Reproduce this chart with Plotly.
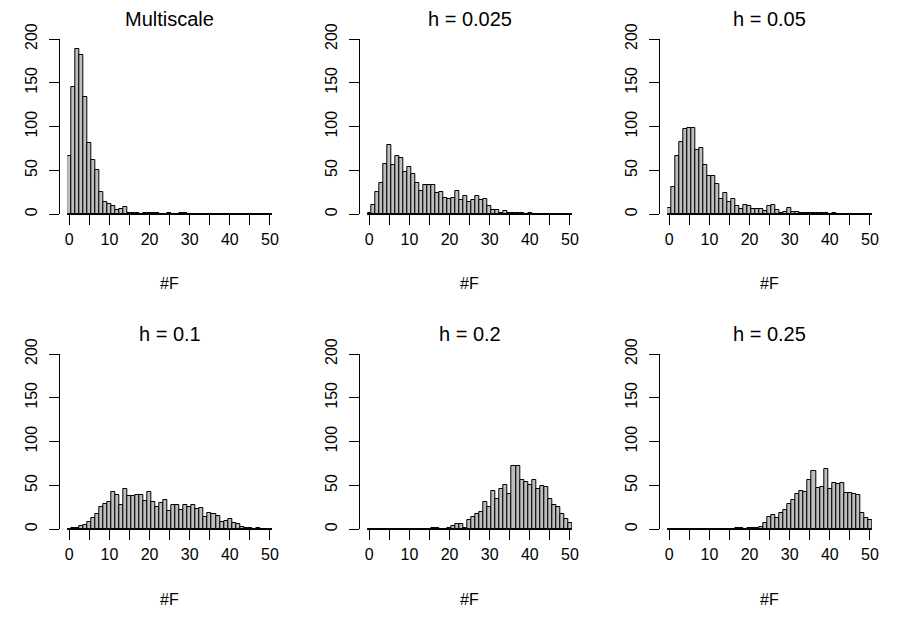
import plotly.graph_objects as go

W, H = 900, 630

titles = ["Multiscale", "h = 0.025", "h = 0.05", "h = 0.1", "h = 0.2", "h = 0.25"]
bins = list(range(0, 51))  # bin centers, width 1

counts_multiscale = [67, 145, 189, 182, 134, 81, 62, 50, 26, 14, 12, 10, 5, 6, 8, 2, 1, 1, 0, 1,
                     2, 1, 1, 0, 0, 1, 0, 0, 1, 1] + [0] * 21
counts_h0025 = [2, 11, 26, 36, 57, 79, 56, 66, 64, 48, 54, 46, 36, 27, 34, 33, 34, 24, 25, 19,
                17, 19, 27, 16, 21, 14, 16, 21, 16, 17, 10, 5, 5, 1, 4, 2, 2, 1, 1, 0,
                1] + [0] * 10
counts_h005 = [7, 31, 66, 82, 97, 99, 98, 73, 76, 56, 44, 44, 35, 18, 24, 14, 17, 10, 6, 11,
               9, 6, 6, 6, 4, 10, 11, 5, 2, 3, 7, 3, 3, 1, 2, 1, 2, 1, 1, 1,
               0, 1] + [0] * 9
counts_h01 = [0, 1, 1, 4, 5, 8, 13, 17, 26, 29, 31, 43, 39, 28, 46, 38, 38, 39, 39, 32,
              42, 31, 26, 30, 33, 21, 28, 28, 22, 28, 26, 28, 23, 24, 14, 19, 17, 15, 8, 10,
              12, 7, 6, 3, 2, 1, 0, 1, 0, 0, 0]
counts_h02 = [0] * 16 + [1, 1, 0, 0, 2, 4, 6, 6, 1, 11, 14, 18, 20, 31, 26, 44, 35, 46, 50, 40,
                         72, 72, 56, 54, 50, 56, 46, 49, 48, 35, 28, 26, 18, 12, 7]
counts_h025 = [0] * 17 + [2, 1, 0, 1, 2, 1, 3, 7, 14, 16, 13, 19, 22, 29, 33, 40, 44, 43, 56,
                          66, 47, 48, 69, 46, 53, 52, 53, 41, 41, 40, 39, 19, 13, 11]

all_counts = [counts_multiscale, counts_h0025, counts_h005, counts_h01, counts_h02, counts_h025]

y_ticks = [0, 50, 100, 150, 200]
x_ticks = list(range(0, 51, 5))
x_ticktext = [str(v) if v % 10 == 0 else "" for v in x_ticks]

FONT = "Liberation Sans, Arial, Helvetica, sans-serif"

fig = go.Figure()
layout = dict(
    width=W, height=H,
    margin=dict(l=0, r=0, t=0, b=0, autoexpand=False),
    paper_bgcolor="white", plot_bgcolor="white",
    showlegend=False,
    bargap=0,
    font=dict(family=FONT, color="black", size=16),
)
annotations = []

for i, (title, counts) in enumerate(zip(titles, all_counts)):
    row, col = divmod(i, 3)
    xo = 300 * col
    yo = 315 * row
    idx = "" if i == 0 else str(i + 1)
    xa, ya = "x" + idx, "y" + idx

    fig.add_trace(go.Bar(
        x=bins, y=counts, width=1.0,
        marker=dict(color="#BEBEBE", line=dict(color="black", width=1)),
        xaxis=xa, yaxis=ya, hoverinfo="x+y",
    ))

    x_left, x_right = 67.3 + xo, 272.0 + xo
    y_top, y_bot = 39.0 + yo, 214.3 + yo
    layout["xaxis" + idx] = dict(
        domain=[x_left / W, x_right / W], range=[-0.5, 50.5], anchor=ya,
        showline=True, linecolor="black", linewidth=1,
        ticks="outside", ticklen=10, tickwidth=1, tickcolor="black",
        tickvals=x_ticks, ticktext=x_ticktext, tickfont=dict(size=16),
        showgrid=False, zeroline=False, fixedrange=True, automargin=False,
    )
    layout["yaxis" + idx] = dict(
        domain=[1 - y_bot / H, 1 - y_top / H], range=[0, 200],
        anchor="free", position=(59.3 + xo) / W,
        showline=True, linecolor="black", linewidth=1,
        ticks="outside", ticklen=10, tickwidth=1, tickcolor="black",
        tickvals=y_ticks, tickangle=-90, tickfont=dict(size=16),
        ticklabelstandoff=6,
        showgrid=False, zeroline=False, fixedrange=True, automargin=False,
    )
    annotations.append(dict(
        text=title, xref=xa, x=25, yref="paper", y=1 - (19 + yo) / H,
        xanchor="center", yanchor="middle", showarrow=False,
        font=dict(size=20, family=FONT, color="black"),
    ))
    annotations.append(dict(
        text="#F", xref=xa, x=25, yref="paper", y=1 - (284 + yo) / H,
        xanchor="center", yanchor="middle", showarrow=False,
        font=dict(size=16, family=FONT, color="black"),
    ))

layout["annotations"] = annotations
fig.update_layout(**layout)
fig.write_html("out.html")
